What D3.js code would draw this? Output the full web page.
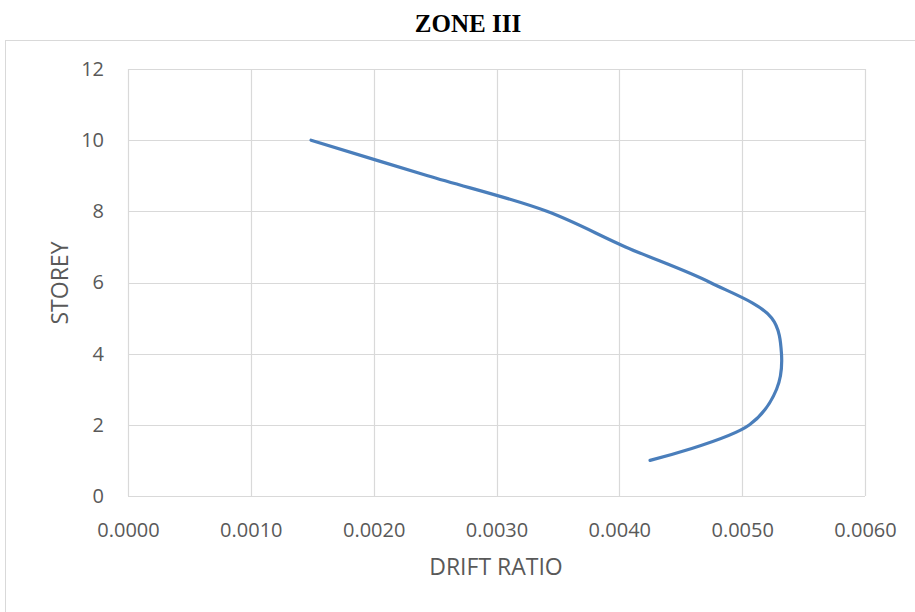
<!DOCTYPE html>
<html>
<head>
<meta charset="utf-8">
<script src="https://cdn.jsdelivr.net/npm/d3@7"></script>
<style>
    body { margin: 0; background: #fff; }
    .tick text { font-family: "Open Sans", "Liberation Sans", sans-serif; font-size: 20px; fill: #595959; }
    .axis-title { font-family: "Open Sans", "Liberation Sans", sans-serif; font-size: 23px; fill: #595959; }
</style>
</head>
<body>
<svg id="vis1" width="915" height="612"></svg>
<script>
// storey numbers and drift ratios
const storeys = [1, 2, 3, 4, 5, 6, 7, 8, 9, 10];
const driftRatio = [0.00425, 0.00506, 0.00528, 0.00532, 0.00524, 0.00474, 0.00405, 0.00341, 0.00244, 0.00149];

const xTicks = [0, 0.001, 0.002, 0.003, 0.004, 0.005, 0.006];
const yTicks = [0, 2, 4, 6, 8, 10, 12];

var width = 915,
    height = 612;

const margin = {
    top: 69,
    bottom: 116,
    left: 128,
    right: 50
};

var svg = d3.select("svg#vis1");

// outer chart frame (runs off the right and bottom edge)
svg.append("rect")
    .attr("x", 5.5)
    .attr("y", 40.5)
    .attr("width", 930)
    .attr("height", 600)
    .attr("fill", "none")
    .attr("stroke", "#d9d9d9");

svg.append("text")
    .attr("x", 468)
    .attr("y", 32)
    .attr("text-anchor", "middle")
    .style("font-family", "'Liberation Serif', 'Times New Roman', serif")
    .style("font-weight", "bold")
    .style("font-size", "25px")
    .text("ZONE III");

var x = d3.scaleLinear()
    .domain([0, 0.006])
    .range([margin.left, width - margin.right]);

var y = d3.scaleLinear()
    .domain([0, 12])
    .range([height - margin.bottom, margin.top]);

// gridlines
svg.append("g").selectAll("line.vgrid")
    .data(xTicks)
    .enter()
    .append("line")
    .attr("class", "vgrid")
    .attr("x1", d => Math.round(x(d)) + 0.5)
    .attr("x2", d => Math.round(x(d)) + 0.5)
    .attr("y1", y(12))
    .attr("y2", y(0))
    .attr("stroke", "#d9d9d9")
    .attr("stroke-width", 1.2);

svg.append("g").selectAll("line.hgrid")
    .data(yTicks)
    .enter()
    .append("line")
    .attr("class", "hgrid")
    .attr("x1", x(0))
    .attr("x2", x(0.006))
    .attr("y1", d => Math.round(y(d)) + 0.5)
    .attr("y2", d => Math.round(y(d)) + 0.5)
    .attr("stroke", "#d9d9d9")
    .attr("stroke-width", 1.2);

// axes (labels only, lines come from the grid)
let xAxis = d3.axisBottom(x)
    .tickValues(xTicks)
    .tickFormat(d3.format(".4f"))
    .tickSize(0)
    .tickPadding(27);

let xg = svg.append("g")
    .attr("transform", translate(0, y(0)))
    .call(xAxis);
xg.select(".domain").remove();

let yAxis = d3.axisLeft(y)
    .tickValues(yTicks)
    .tickSize(0)
    .tickPadding(24);

let yg = svg.append("g")
    .attr("transform", translate(x(0), 0))
    .call(yAxis);
yg.select(".domain").remove();

svg.append("text")
    .attr("class", "axis-title")
    .attr("x", 496)
    .attr("y", 575)
    .attr("text-anchor", "middle")
    .text("DRIFT RATIO");

svg.append("text")
    .attr("class", "axis-title")
    .attr("transform", translate(68, 283) + " rotate(-90)")
    .attr("text-anchor", "middle")
    .text("STOREY");

// smoothed series line
let line = d3.line()
    .x((d, i) => x(driftRatio[i]))
    .y(d => y(d))
    .curve(d3.curveCatmullRom.alpha(0.5));

svg.append("path")
    .datum(storeys)
    .attr("d", line)
    .attr("fill", "none")
    .attr("stroke", "#4a7ebb")
    .attr("stroke-width", 3.2)
    .attr("stroke-linecap", "round");

function translate(x, y) {
    return "translate(" + String(x) + "," + String(y) + ")";
}
</script>
</body>
</html>
